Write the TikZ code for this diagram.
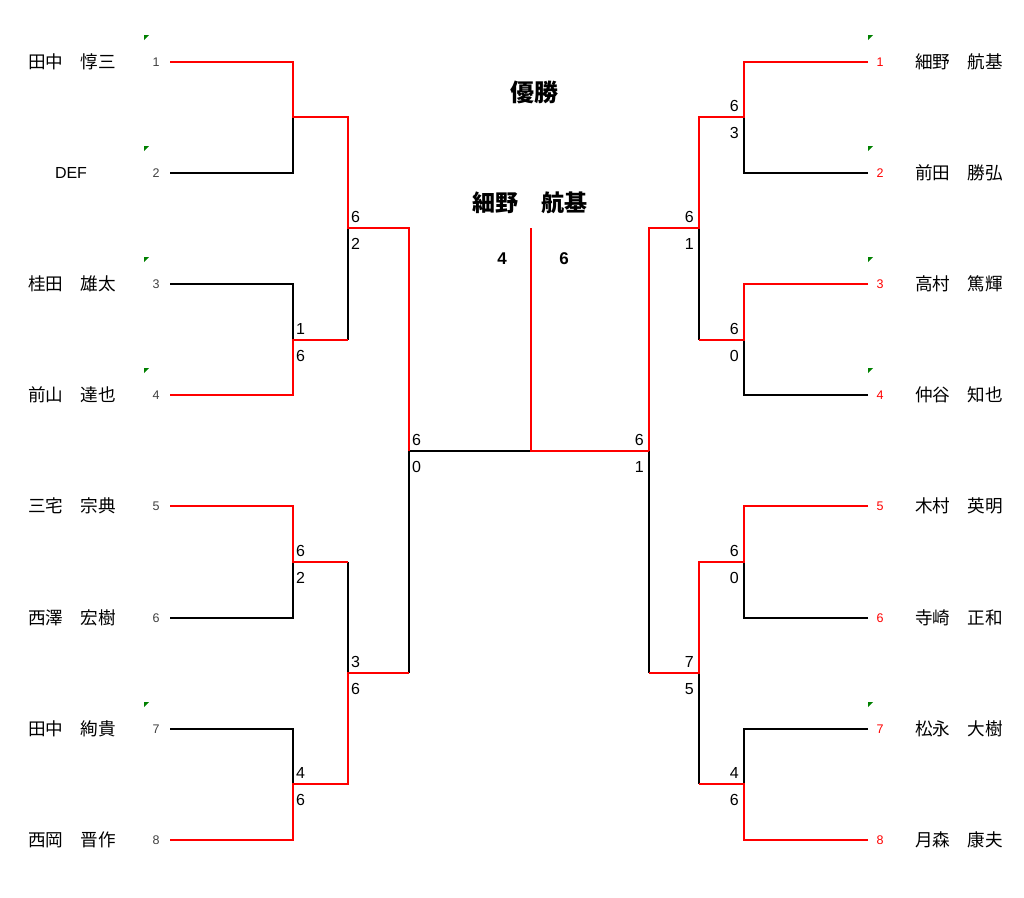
\documentclass[tikz,border=0pt]{standalone}
\usepackage{fontspec}
\setmainfont{Liberation Sans}
\newfontfamily\cjk{Noto Sans CJK JP}
\begin{document}
\begin{tikzpicture}[x=1pt,y=-1pt,
  lose/.style={draw=black,line width=1.5pt,line join=miter},
  win/.style={draw=red,line width=1.5pt,line join=miter},
  pname/.style={font=\cjk\fontsize{17.6}{17.6}\selectfont,inner sep=0pt},
  lseed/.style={font=\fontsize{12.5}{12.5}\selectfont,text=black!75,inner sep=0pt},
  rseed/.style={font=\fontsize{12.5}{12.5}\selectfont,text=red,inner sep=0pt},
  lsc/.style={font=\fontsize{16}{16}\selectfont,inner sep=0pt,anchor=west},
  rsc/.style={font=\fontsize{16}{16}\selectfont,inner sep=0pt,anchor=east},
  fsc/.style={font=\bfseries\fontsize{17}{17}\selectfont,inner sep=0pt},
  title/.style={font=\cjk\bfseries\fontsize{23}{23}\selectfont,inner sep=0pt},
  gmark/.style={fill=green!50!black,draw=none}]
\useasboundingbox (0,0) rectangle (1024,897);
% x positions
\def\xa{170}\def\xb{293}\def\xc{348}\def\xd{409}\def\xm{531}
\def\Xa{868}\def\Xb{744}\def\Xc{699}\def\Xd{649}
% y positions
\def\ra{62}\def\rb{173}\def\rc{284}\def\rd{395}\def\re{506}\def\rf{618}\def\rg{729}\def\rh{840}
\def\ja{117}\def\jb{340}\def\jc{562}\def\jd{784}\def\ka{228}\def\kb{673}\def\fy{451}
% coordinates
\foreach \n/\y in {1/\ra,2/\rb,3/\rc,4/\rd,5/\re,6/\rf,7/\rg,8/\rh}{
  \coordinate (L\n s) at (\xa,\y);
  \coordinate (L\n e) at (\xb,\y);
  \coordinate (R\n s) at (\Xa,\y);
  \coordinate (R\n e) at (\Xb,\y);
}
\coordinate (LJa) at (\xb,\ja); \coordinate (LJaR) at (\xc,\ja);
\coordinate (LJb) at (\xb,\jb); \coordinate (LJbR) at (\xc,\jb);
\coordinate (LJc) at (\xb,\jc); \coordinate (LJcR) at (\xc,\jc);
\coordinate (LJd) at (\xb,\jd); \coordinate (LJdR) at (\xc,\jd);
\coordinate (LKa) at (\xc,\ka); \coordinate (LKaR) at (\xd,\ka);
\coordinate (LKb) at (\xc,\kb); \coordinate (LKbR) at (\xd,\kb);
\coordinate (LF) at (\xd,\fy);
\coordinate (RJa) at (\Xb,\ja); \coordinate (RJaL) at (\Xc,\ja);
\coordinate (RJb) at (\Xb,\jb); \coordinate (RJbL) at (\Xc,\jb);
\coordinate (RJc) at (\Xb,\jc); \coordinate (RJcL) at (\Xc,\jc);
\coordinate (RJd) at (\Xb,\jd); \coordinate (RJdL) at (\Xc,\jd);
\coordinate (RKa) at (\Xc,\ka); \coordinate (RKaL) at (\Xd,\ka);
\coordinate (RKb) at (\Xc,\kb); \coordinate (RKbL) at (\Xd,\kb);
\coordinate (RF) at (\Xd,\fy);
\coordinate (CT) at (\xm,\ka); \coordinate (CF) at (\xm,\fy);
% losers (black)
\draw[lose] (L2s) -- (L2e) -- (LJa);
\draw[lose] (L3s) -- (L3e) -- (LJb);
\draw[lose] (LJbR) -- (LKa);
\draw[lose] (L6s) -- (L6e) -- (LJc);
\draw[lose] (LJcR) -- (LKb);
\draw[lose] (L7s) -- (L7e) -- (LJd);
\draw[lose] (LKbR) -- (LF) -- (CF);
\draw[lose] (R2s) -- (R2e) -- (RJa);
\draw[lose] (R4s) -- (R4e) -- (RJb);
\draw[lose] (RJbL) -- (RKa);
\draw[lose] (R6s) -- (R6e) -- (RJc);
\draw[lose] (R7s) -- (R7e) -- (RJd);
\draw[lose] (RJdL) -- (RKb);
\draw[lose] (RKbL) -- (RF);
% winners (red)
\draw[win] (L1s) -- (L1e) -- (LJa) -- (LJaR) -- (LKa) -- (LKaR) -- (LF);
\draw[win] (L4s) -- (L4e) -- (LJb) -- (LJbR);
\draw[win] (L5s) -- (L5e) -- (LJc) -- (LJcR);
\draw[win] (L8s) -- (L8e) -- (LJd) -- (LJdR) -- (LKb) -- (LKbR);
\draw[win] (R1s) -- (R1e) -- (RJa) -- (RJaL) -- (RKa) -- (RKaL) -- (RF);
\draw[win] (R3s) -- (R3e) -- (RJb) -- (RJbL);
\draw[win] (R5s) -- (R5e) -- (RJc) -- (RJcL) -- (RKb) -- (RKbL);
\draw[win] (R8s) -- (R8e) -- (RJd) -- (RJdL);
\draw[win] (CT) -- (CF) -- (RF);
% names
\node[pname] (nL1) at (72,\ra) {田中　惇三};
\node[inner sep=0pt,font=\fontsize{16}{16}\selectfont] (nL2) at (71,\rb) {DEF};
\node[pname] (nL3) at (72,\rc) {桂田　雄太};
\node[pname] (nL4) at (72,\rd) {前山　達也};
\node[pname] (nL5) at (72,\re) {三宅　宗典};
\node[pname] (nL6) at (72,\rf) {西澤　宏樹};
\node[pname] (nL7) at (72,\rg) {田中　絢貴};
\node[pname] (nL8) at (72,\rh) {西岡　晋作};
\node[pname] (nR1) at (959,\ra) {細野　航基};
\node[pname] (nR2) at (959,\rb) {前田　勝弘};
\node[pname] (nR3) at (959,\rc) {高村　篤輝};
\node[pname] (nR4) at (959,\rd) {仲谷　知也};
\node[pname] (nR5) at (959,\re) {木村　英明};
\node[pname] (nR6) at (959,\rf) {寺崎　正和};
\node[pname] (nR7) at (959,\rg) {松永　大樹};
\node[pname] (nR8) at (959,\rh) {月森　康夫};
% seeds
\foreach \n/\y in {1/\ra,2/\rb,3/\rc,4/\rd,5/\re,6/\rf,7/\rg,8/\rh}{
  \node[lseed] (sL\n) at (156,\y) {\n};
  \node[rseed] (sR\n) at (880,\y) {\n};
}
% green marks
\foreach \y in {\ra,\rb,\rc,\rd,\rg}{
  \fill[gmark] (144,\y-27) -- (149,\y-27) -- (144,\y-22) -- cycle;
  \fill[gmark] (868,\y-27) -- (873,\y-27) -- (868,\y-22) -- cycle;
}
% left scores
\node[lsc] (a1) at (\xb+3,\jb-11.5) {1};
\node[lsc] (a2) at (\xb+3,\jb+16) {6};
\node[lsc] (a3) at (\xc+3,\ka-11.5) {6};
\node[lsc] (a4) at (\xc+3,\ka+16) {2};
\node[lsc] (a5) at (\xb+3,\jc-11.5) {6};
\node[lsc] (a6) at (\xb+3,\jc+16) {2};
\node[lsc] (a7) at (\xb+3,\jd-11.5) {4};
\node[lsc] (a8) at (\xb+3,\jd+16) {6};
\node[lsc] (a9) at (\xc+3,\kb-11.5) {3};
\node[lsc] (a10) at (\xc+3,\kb+16) {6};
\node[lsc] (a11) at (\xd+3,\fy-11.5) {6};
\node[lsc] (a12) at (\xd+3,\fy+16) {0};
% right scores
\node[rsc] (b1) at (\Xb-5,\ja-11.5) {6};
\node[rsc] (b2) at (\Xb-5,\ja+16) {3};
\node[rsc] (b3) at (\Xc-5,\ka-11.5) {6};
\node[rsc] (b4) at (\Xc-5,\ka+16) {1};
\node[rsc] (b5) at (\Xb-5,\jb-11.5) {6};
\node[rsc] (b6) at (\Xb-5,\jb+16) {0};
\node[rsc] (b7) at (\Xd-5,\fy-11.5) {6};
\node[rsc] (b8) at (\Xd-5,\fy+16) {1};
\node[rsc] (b9) at (\Xb-5,\jc-11.5) {6};
\node[rsc] (b10) at (\Xb-5,\jc+16) {0};
\node[rsc] (b11) at (\Xc-5,\kb-11.5) {7};
\node[rsc] (b12) at (\Xc-5,\kb+16) {5};
\node[rsc] (b13) at (\Xb-5,\jd-11.5) {4};
\node[rsc] (b14) at (\Xb-5,\jd+16) {6};
% final
\node[title,font=\cjk\bfseries\fontsize{24}{24}\selectfont] (champ) at (534,92) {優勝};
\node[title] (winner) at (530,203) {細野　航基};
\node[fsc] (fl) at (502,259) {4};
\node[fsc] (fr) at (564,259) {6};
\end{tikzpicture}
\end{document}
